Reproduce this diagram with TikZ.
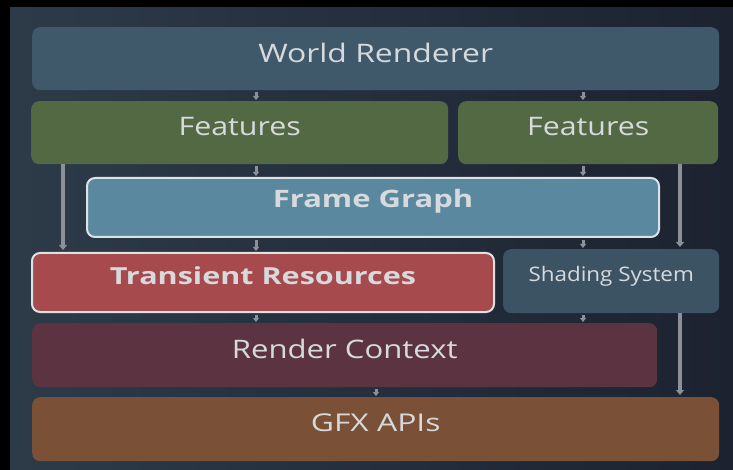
\documentclass[tikz,border=0pt]{standalone}
\usepackage{fontspec}
\usepackage{graphicx}
\setmainfont{Open Sans}
\usetikzlibrary{arrows.meta,calc}

\definecolor{bgL}{HTML}{2D3B49}
\definecolor{bgR}{HTML}{1C2230}
\definecolor{wrC}{HTML}{3F596B}
\definecolor{ftC}{HTML}{536944}
\definecolor{fgC}{HTML}{5A899F}
\definecolor{trC}{HTML}{A64A4E}
\definecolor{shC}{HTML}{3C5364}
\definecolor{rcC}{HTML}{5C3441}
\definecolor{gxC}{HTML}{7A5037}
\definecolor{txC}{HTML}{D6DADD}
\definecolor{rimC}{HTML}{DCE2E5}
\definecolor{arC}{HTML}{8C9099}

% wide lettering: size, horizontal stretch, text
\newcommand{\widetext}[3]{\scalebox{#2}[1]{\fontsize{#1}{#1}\selectfont #3}}

\tikzset{
  layer/.style={rounded corners=8pt, inner sep=0pt, anchor=north west},
  rimmed/.style={layer, draw=rimC, line width=2pt},
  caption/.style={text=txC, inner sep=0pt},
  shortarrow/.style={draw=arC, line width=3pt,
    -{Triangle[width=6pt,length=4pt]}, shorten <=2pt, shorten >=1pt},
  longarrow/.style={draw=arC, line width=3.5pt,
    -{Triangle[width=8pt,length=5pt]}, shorten >=2pt}
}

\begin{document}
\begin{tikzpicture}[x=1pt,y=-1pt]
  % frame and backdrop
  \fill[black] (0,0) rectangle (733,470);
  \shade[left color=bgL, right color=bgR] (10,8) rectangle (733,470);
  \useasboundingbox (0,0) rectangle (733,470);

  % layers of the renderer
  \node[layer, fill=wrC, minimum width=687pt, minimum height=63pt] (wr) at (32,27) {};
  \node[layer, fill=ftC, minimum width=417pt, minimum height=63pt] (ftl) at (31,101) {};
  \node[layer, fill=ftC, minimum width=260pt, minimum height=63pt] (ftr) at (458,101) {};
  \node[rimmed, fill=fgC, minimum width=572pt, minimum height=59pt] (fg) at (86,177) {};
  \node[rimmed, fill=trC, minimum width=462pt, minimum height=59pt] (tr) at (31,252) {};
  \node[layer, fill=shC, minimum width=216pt, minimum height=64pt] (sh) at (503,249) {};
  \node[layer, fill=rcC, minimum width=625pt, minimum height=64pt] (rc) at (32,323) {};
  \node[layer, fill=gxC, minimum width=687pt, minimum height=64pt] (gx) at (32,397) {};

  % captions
  \node[caption] (wrt) at ([yshift=6pt]wr.center) {\widetext{25.5}{1.25}{World Renderer}};
  \node[caption] (ftlt) at ([yshift=6pt]ftl.center) {\widetext{25.5}{1.19}{Features}};
  \node[caption] (ftrt) at ([yshift=6pt]ftr.center) {\widetext{25.5}{1.19}{Features}};
  \node[caption] (fgt) at ([yshift=6pt]fg.center) {\widetext{24}{1.29}{\bfseries Frame Graph}};
  \node[caption] (trt) at ([yshift=7pt]tr.center) {\widetext{23.5}{1.30}{\bfseries Transient Resources}};
  \node[caption] (sht) at ([yshift=5pt]sh.center) {\widetext{20}{1.12}{Shading System}};
  \node[caption] (rct) at ([yshift=6pt]rc.center) {\widetext{25.5}{1.22}{Render Context}};
  \node[caption] (gxt) at ([yshift=6pt]gx.center) {\widetext{24.5}{1.30}{GFX APIs}};

  % arrow columns
  \coordinate (colA) at (256,0);
  \coordinate (colB) at (583,0);
  \coordinate (colC) at (376,0);
  \coordinate (colL) at (63,0);
  \coordinate (colR) at (680,0);

  % short links between adjacent layers
  \draw[shortarrow] (colA |- wr.south) -- (colA |- ftl.north);
  \draw[shortarrow] (colB |- wr.south) -- (colB |- ftr.north);
  \draw[shortarrow] (colA |- ftl.south) -- (colA |- fg.north);
  \draw[shortarrow] (colB |- ftr.south) -- (colB |- fg.north);
  \draw[shortarrow] (colA |- fg.south) -- (colA |- tr.north);
  \draw[shortarrow] (colB |- fg.south) -- (colB |- sh.north);
  \draw[shortarrow] (colA |- tr.south) -- (colA |- rc.north);
  \draw[shortarrow] (colB |- sh.south) -- (colB |- rc.north);
  \draw[shortarrow] (colC |- rc.south) -- (colC |- gx.north);

  % long links bypassing the frame graph
  \draw[longarrow] (colL |- ftl.south) -- (colL |- tr.north);
  \draw[longarrow] (colR |- ftr.south) -- (colR |- sh.north);
  \draw[longarrow] (colR |- sh.south) -- (colR |- gx.north);
\end{tikzpicture}
\end{document}
